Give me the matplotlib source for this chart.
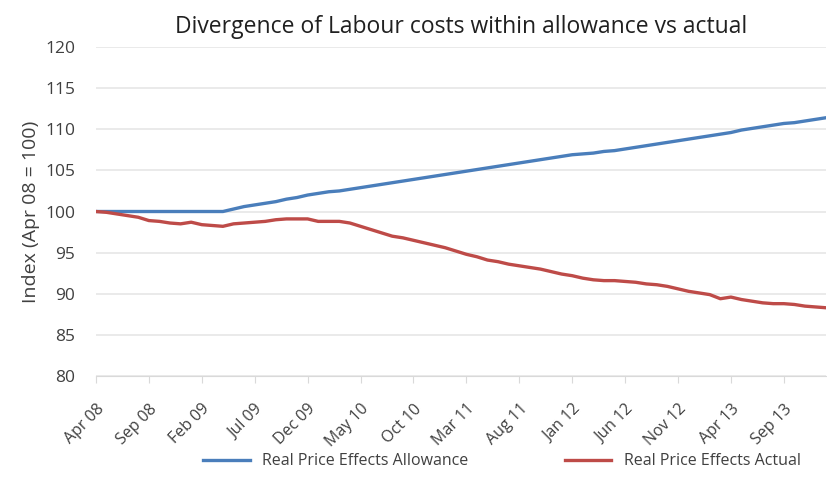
import numpy as np
import matplotlib.pyplot as plt

months = ["Apr 08", "Sep 08", "Feb 09", "Jul 09", "Dec 09", "May 10", "Oct 10",
          "Mar 11", "Aug 11", "Jan 12", "Jun 12", "Nov 12", "Apr 13", "Sep 13"]

# monthly index values, Apr 08 .. Jan 14
allowance = [100.0, 100.0, 100.0, 100.0, 100.0, 100.0, 100.0, 100.0, 100.0, 100.0,
             100.0, 100.0, 100.0, 100.3, 100.6, 100.8, 101.0, 101.2, 101.5, 101.7,
             102.0, 102.2, 102.4, 102.5, 102.7, 102.9, 103.1, 103.3, 103.5, 103.7,
             103.9, 104.1, 104.3, 104.5, 104.7, 104.9, 105.1, 105.3, 105.5, 105.7,
             105.9, 106.1, 106.3, 106.5, 106.7, 106.9, 107.0, 107.1, 107.3, 107.4,
             107.6, 107.8, 108.0, 108.2, 108.4, 108.6, 108.8, 109.0, 109.2, 109.4,
             109.6, 109.9, 110.1, 110.3, 110.5, 110.7, 110.8, 111.0, 111.2, 111.4]

actual = [100.0, 99.9, 99.7, 99.5, 99.3, 98.9, 98.8, 98.6, 98.5, 98.7,
          98.4, 98.3, 98.2, 98.5, 98.6, 98.7, 98.8, 99.0, 99.1, 99.1,
          99.1, 98.8, 98.8, 98.8, 98.6, 98.2, 97.8, 97.4, 97.0, 96.8,
          96.5, 96.2, 95.9, 95.6, 95.2, 94.8, 94.5, 94.1, 93.9, 93.6,
          93.4, 93.2, 93.0, 92.7, 92.4, 92.2, 91.9, 91.7, 91.6, 91.6,
          91.5, 91.4, 91.2, 91.1, 90.9, 90.6, 90.3, 90.1, 89.9, 89.4,
          89.6, 89.3, 89.1, 88.9, 88.8, 88.8, 88.7, 88.5, 88.4, 88.3]

plt.rcParams['font.family'] = ['Open Sans', 'DejaVu Sans']
txt = '#404040'

fig = plt.figure(figsize=(8.27, 4.84), dpi=100)
ax = fig.add_axes([0.116, 0.223, 0.883, 0.680])

x = np.arange(len(allowance))
ax.plot(x, allowance, color='#4A7EBB', lw=2.4, label='Real Price Effects Allowance')
ax.plot(x, actual, color='#BE4B48', lw=2.4, label='Real Price Effects Actual')

ax.set_xlim(0, len(allowance) - 1)
ax.set_ylim(80, 120)
ax.set_yticks(range(80, 121, 5))
ax.set_xticks(range(0, 5 * len(months), 5))
ax.set_xticklabels(months, rotation=45, ha='right', rotation_mode='anchor',
                   fontsize=11.5, color=txt)
ax.tick_params(axis='y', length=0, labelsize=12.5, colors=txt, pad=15)
ax.tick_params(axis='x', length=5, color='#D9D9D9', pad=13)

ax.grid(axis='y', color='#E6E6E6', lw=1.2)
ax.set_axisbelow(True)
for s in ['top', 'right', 'left']:
    ax.spines[s].set_visible(False)
ax.spines['bottom'].set_color('#D9D9D9')

ax.set_ylabel('Index (Apr 08 = 100)', fontsize=14, color=txt, labelpad=4)
ax.set_title('Divergence of Labour costs within allowance vs actual',
             fontsize=16.5, color='#202020', pad=10)

fig.legend(loc='center', bbox_to_anchor=(0.607, 0.047), ncol=2, frameon=False,
           fontsize=11.5, handlelength=2.9, columnspacing=6.0, labelcolor=txt)

fig.savefig('out.png', dpi=100)
